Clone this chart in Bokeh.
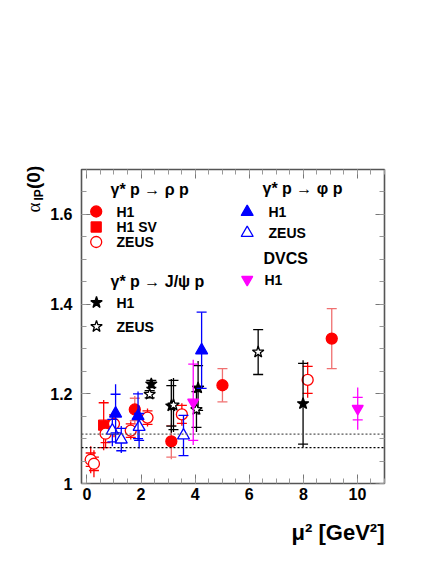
import math
from bokeh.plotting import figure
from bokeh.models import LinearAxis, FixedTicker, PrintfTickFormatter, Label, Span, Title
from bokeh.embed import file_html
from bokeh.resources import INLINE

# ---------------- data ----------------
# gamma* p -> rho p
h1_rho_x = [1.77, 3.12, 5.01, 9.05]
h1_rho_y = [1.165, 1.094, 1.219, 1.323]
h1_rho_stat = [0.025, 0.035, 0.037, 0.067]
h1_rho_tot = [0.030, 0.040, 0.037, 0.067]

h1sv_rho_x = [0.62]
h1sv_rho_y = [1.130]
h1sv_rho_stat = [0.050]
h1sv_rho_tot = [0.056]

zeus_rho_x = [0.14, 0.26, 0.69, 1.00, 1.62, 2.24, 3.51, 8.16]
zeus_rho_y = [1.053, 1.044, 1.111, 1.133, 1.118, 1.147, 1.154, 1.231]
zeus_rho_stat = [0.015, 0.015, 0.020, 0.020, 0.015, 0.015, 0.020, 0.030]
zeus_rho_tot = [0.030, 0.030, 0.030, 0.030, 0.020, 0.020, 0.025, 0.040]

# gamma* p -> phi p
h1_phi_x = [1.06, 1.89, 4.24]
h1_phi_y = [1.156, 1.150, 1.297]
h1_phi_stat = [0.043, 0.050, 0.085]
h1_phi_tot = [0.065, 0.055, 0.085]

zeus_phi_x = [0.94, 1.27, 1.93, 3.57]
zeus_phi_y = [1.118, 1.098, 1.126, 1.107]
zeus_phi_stat = [0.025, 0.025, 0.030, 0.045]
zeus_phi_tot = [0.035, 0.030, 0.048, 0.045]

# gamma* p -> J/psi p
h1_jpsi_x = [2.38, 3.12, 4.11, 7.99]
h1_jpsi_y = [1.222, 1.173, 1.213, 1.178]
h1_jpsi_stat = [0.008, 0.045, 0.050, 0.090]
h1_jpsi_tot = [0.008, 0.060, 0.060, 0.097]

zeus_jpsi_x = [2.32, 3.20, 4.05, 6.33]
zeus_jpsi_y = [1.199, 1.175, 1.165, 1.293]
zeus_jpsi_stat = [0.008, 0.055, 0.040, 0.050]
zeus_jpsi_tot = [0.008, 0.060, 0.050, 0.050]

# DVCS
h1_dvcs_x = [3.93, 10.01]
h1_dvcs_y = [1.181, 1.167]
h1_dvcs_stat = [0.085, 0.025]
h1_dvcs_tot = [0.095, 0.047]

soft_pomeron_lines = [1.08, 1.11]

x_major = [0, 2, 4, 6, 8, 10]
y_major = [1.0, 1.2, 1.4, 1.6]

# ---------------- figure ----------------
XR = (-0.2, 11.0)
YR = (1.0, 1.7)
W, H = 430, 562
BL, BR, BT, BB = 81, 46, 169, 79

p = figure(width=W, height=H, x_range=XR, y_range=YR, output_backend="svg",
           toolbar_location=None, min_border_left=BL, min_border_right=BR,
           min_border_top=BT, min_border_bottom=BB, x_axis_type=None, y_axis_type=None)
p.xgrid.visible = False
p.ygrid.visible = False
p.outline_line_color = "#555555"
p.outline_line_width = 1.6
p.background_fill_color = "white"
p.border_fill_color = "white"

# canvas-pixel -> data helpers for annotation placement
FX0, FX1 = BL, W - BR
FY0, FY1 = BT, H - BB


def dx(px):
    return XR[0] + (px - FX0) / (FX1 - FX0) * (XR[1] - XR[0])


def dy(py):
    return YR[0] + (FY1 - py) / (FY1 - FY0) * (YR[1] - YR[0])


FONT = "Liberation Sans"
xminor = [i * 0.5 for i in range(0, 23)]
yminor = [1.0 + i * 0.05 for i in range(0, 15)]


def make_axis(kind, loc, labels):
    ax = LinearAxis()
    if kind == "x":
        ax.ticker = FixedTicker(ticks=x_major, minor_ticks=xminor)
    else:
        ax.ticker = FixedTicker(ticks=y_major, minor_ticks=yminor)
    ax.formatter = PrintfTickFormatter(format="%g")
    ax.axis_line_color = None
    ax.major_tick_in = 9
    ax.major_tick_out = 0
    ax.minor_tick_in = 5
    ax.minor_tick_out = 0
    ax.major_tick_line_color = "#777777"
    ax.minor_tick_line_color = "#999999"
    ax.major_label_text_font = FONT
    ax.major_label_text_font_style = "bold"
    ax.major_label_text_font_size = "16px"
    ax.major_label_text_color = "black"
    if kind == "x":
        ax.major_label_standoff = 4
    else:
        ax.major_label_standoff = 9
    if not labels:
        ax.major_label_text_alpha = 0
        ax.major_label_text_font_size = "1px"
        ax.major_label_standoff = 0
    p.add_layout(ax, loc)


make_axis("x", "below", True)
make_axis("y", "left", True)
make_axis("x", "above", False)
make_axis("y", "right", False)

# x-axis title
p.add_layout(Title(text="μ² [GeV²]", align="right", offset=0, standoff=31,
                   text_font=FONT, text_font_size="22px", text_font_style="bold",
                   text_color="black"), "below")

for v, c in zip(soft_pomeron_lines, ["black", "#555555"]):
    p.add_layout(Span(location=v, dimension="width", line_color=c,
                      line_dash="2 2", line_width=1.2))


def series(x, y, stat, tot, color, bar_color, marker, filled, size):
    lo_t = [a - b for a, b in zip(y, tot)]
    hi_t = [a + b for a, b in zip(y, tot)]
    lo_s = [a - b for a, b in zip(y, stat)]
    hi_s = [a + b for a, b in zip(y, stat)]
    p.segment(x0=x, y0=lo_t, x1=x, y1=hi_t, line_color=bar_color, line_width=1.3)
    p.scatter(x=x + x, y=lo_s + hi_s, marker="dash", size=10,
              line_color=bar_color, line_width=1.3)
    p.scatter(x=x, y=y, marker=marker, size=size,
              fill_color=color if filled else "white",
              line_color=color, line_width=1.3)


RED_BAR = "#f07070"
series(h1_rho_x, h1_rho_y, h1_rho_stat, h1_rho_tot, "red", RED_BAR, "circle", True, 11)
series(h1sv_rho_x, h1sv_rho_y, h1sv_rho_stat, h1sv_rho_tot, "red", "red", "square", True, 10)
series(zeus_rho_x, zeus_rho_y, zeus_rho_stat, zeus_rho_tot, "red", "red", "circle", False, 11)
series(h1_jpsi_x, h1_jpsi_y, h1_jpsi_stat, h1_jpsi_tot, "black", "black", "star", True, 12)
series(zeus_jpsi_x, zeus_jpsi_y, zeus_jpsi_stat, zeus_jpsi_tot, "black", "black", "star", False, 12)
series(h1_dvcs_x, h1_dvcs_y, h1_dvcs_stat, h1_dvcs_tot, "magenta", "magenta", "inverted_triangle", True, 11)
series(zeus_phi_x, zeus_phi_y, zeus_phi_stat, zeus_phi_tot, "blue", "blue", "triangle", False, 12)
series(h1_phi_x, h1_phi_y, h1_phi_stat, h1_phi_tot, "blue", "blue", "triangle", True, 12)


# ---------------- legend (hand-placed, as in the original) ----------------
def txt(px, py, s, size="14px", style="bold", font=FONT, baseline="middle",
        angle=0.0, place=None):
    lab = Label(x=dx(px), y=dy(py), text=s, text_font=font,
                text_font_size=size, text_font_style=style,
                text_baseline=baseline, text_align="left", angle=angle,
                text_color="black")
    if place is None:
        p.add_layout(lab)
    else:
        p.add_layout(lab, place)


def mark(px, py, marker, color, filled, size):
    p.scatter(x=[dx(px)], y=[dy(py)], marker=marker, size=size,
              fill_color=color if filled else "white", line_color=color, line_width=1.3)


txt(110, 189, "γ* p → ρ p", size="16px")
mark(95.7, 211, "circle", "red", True, 11)
txt(116, 211, "H1")
mark(95.7, 226.5, "square", "red", True, 10)
txt(116, 226.5, "H1 SV")
mark(95.7, 241.5, "circle", "red", False, 11)
txt(116, 241.5, "ZEUS")

txt(262, 188, "γ* p → φ p", size="16px")
mark(246.7, 211.5, "triangle", "blue", True, 12)
txt(268, 211.5, "H1")
mark(246.7, 232.5, "triangle", "blue", False, 12)
txt(268, 232.5, "ZEUS")

txt(263, 258, "DVCS", size="16px")
mark(246.7, 279, "inverted_triangle", "magenta", True, 11)
txt(264, 279, "H1")

txt(110, 281, "γ* p → J/ψ p", size="16px")
mark(96, 302, "star", "black", True, 12)
txt(116, 302, "H1")
mark(96, 326, "star", "black", False, 12)
txt(116, 326, "ZEUS")

# y-axis title: side-panel labels (outside the frame), rotated
half_pi = math.pi / 2
txt(33, 212, "α", size="19px", style="normal", font="Liberation Serif",
    baseline="alphabetic", angle=half_pi, place="above")
txt(38, 200, "IP", size="12px", baseline="alphabetic", angle=half_pi, place="above")
txt(33, 188.5, "(0)", size="19px", baseline="alphabetic", angle=half_pi, place="above")

open("out.html", "w").write(file_html(p, INLINE))
